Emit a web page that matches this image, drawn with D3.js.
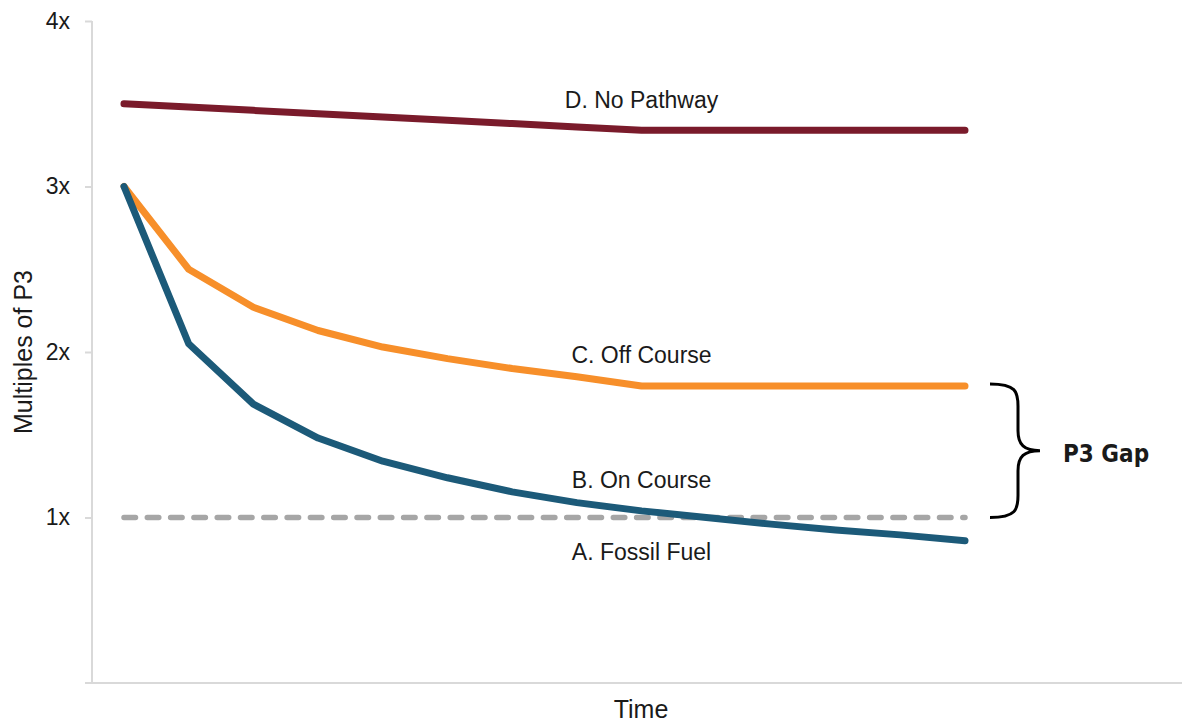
<!DOCTYPE html>
<html>
<head>
<meta charset="utf-8">
<script src="https://cdn.jsdelivr.net/npm/d3@7"></script>
<style>
  html, body { margin: 0; padding: 0; background: #fff; }
  svg { display: block; }
  text { font-family: "Liberation Sans", Arial, sans-serif; fill: #1a1a1a; }
</style>
</head>
<body>
<svg id="chart" width="1182" height="723"></svg>
<script>
// ---- data ----
const periods = d3.range(14);
const fossilFuel = [1,1,1,1,1,1,1,1,1,1,1,1,1,1];
const onCourse = [3.0, 2.05, 1.685, 1.48, 1.34, 1.24, 1.155, 1.09, 1.04, 1.0, 0.96, 0.925, 0.895, 0.86];
const offCourse = [3.0, 2.5, 2.27, 2.13, 2.03, 1.96, 1.9, 1.85, 1.795, 1.795, 1.795, 1.795, 1.795, 1.795];
const noPathway = [3.5, 3.48, 3.46, 3.44, 3.42, 3.40, 3.38, 3.36, 3.34, 3.34, 3.34, 3.34, 3.34, 3.34];
const yTicks = [1, 2, 3, 4];
const yTickLabels = ["1x", "2x", "3x", "4x"];
const seriesLabels = ["A. Fossil Fuel", "B. On Course", "C. Off Course", "D. No Pathway"];

(function () {
const svg = d3.select("#chart");
const x = d3.scaleLinear().domain([0, 13]).range([124, 965]);
const y = d3.scaleLinear().domain([0, 4]).range([683, 21]);
const axisColor = "#d9d9d9";

// y axis
const yAxis = svg.append("g").attr("transform", "translate(92,0)")
  .call(d3.axisLeft(y).tickValues(yTicks).tickSize(7).tickPadding(15)
    .tickFormat((d, i) => yTickLabels[i]));
yAxis.select(".domain").attr("stroke", axisColor).attr("stroke-width", 2)
  .attr("d", `M0,${y(4)}V${y(0)}`);
yAxis.selectAll(".tick line").attr("stroke", axisColor).attr("stroke-width", 2);
yAxis.selectAll(".tick text").attr("font-size", 23).attr("fill", "#1a1a1a")
  .attr("font-family", "Liberation Sans, Arial, sans-serif");

// x axis line
svg.append("line").attr("x1", 85).attr("x2", 1182).attr("y1", y(0)).attr("y2", y(0))
  .attr("stroke", axisColor).attr("stroke-width", 2);

// axis titles
svg.append("text").attr("x", 641).attr("y", 718).attr("text-anchor", "middle")
  .attr("font-size", 25).text("Time");
svg.append("text").attr("transform", `translate(32,${y(2)}) rotate(-90)`)
  .attr("text-anchor", "middle").attr("font-size", 25).text("Multiples of P3");

const line = d3.line().x((d, i) => x(i)).y(d => y(d));

// fossil fuel dashed
svg.append("path").datum(fossilFuel).attr("d", line).attr("fill", "none")
  .attr("stroke", "#a6a6a6").attr("stroke-width", 5.5)
  .attr("stroke-dasharray", "11.5,11.8").attr("stroke-linecap", "round");

const series = [
  { v: offCourse, c: "#f78f2a" },
  { v: onCourse, c: "#1c5a79" },
  { v: noPathway, c: "#7a1b2b" }
];
series.forEach(s => {
  svg.append("path").datum(s.v).attr("d", line).attr("fill", "none")
    .attr("stroke", s.c).attr("stroke-width", 7)
    .attr("stroke-linecap", "round").attr("stroke-linejoin", "round");
});

// series labels
const labelX = x(8);
const labelPos = [
  { t: seriesLabels[3], y: y(3.34) - 22 },
  { t: seriesLabels[2], y: y(1.795) - 23 },
  { t: seriesLabels[1], y: y(1.0) - 30 },
  { t: seriesLabels[0], y: y(1.0) + 42 }
];
labelPos.forEach(l => {
  svg.append("text").attr("x", labelX).attr("y", l.y).attr("text-anchor", "middle")
    .attr("font-size", 23).text(l.t);
});

// brace
const bx = x(13) + 25, bTop = y(1.795) - 2, bBot = y(1.0), mid = (bTop + bBot) / 2;
const bw = 28, tip = 50;
const bp = d3.path();
bp.moveTo(bx, bTop);
bp.bezierCurveTo(bx + bw - 2, bTop, bx + bw, bTop + 8, bx + bw, bTop + 22);
bp.lineTo(bx + bw, mid - 20);
bp.bezierCurveTo(bx + bw, mid - 6, bx + bw + 6, mid, bx + tip, mid);
bp.bezierCurveTo(bx + bw + 6, mid, bx + bw, mid + 6, bx + bw, mid + 20);
bp.lineTo(bx + bw, bBot - 22);
bp.bezierCurveTo(bx + bw, bBot - 8, bx + bw - 2, bBot, bx, bBot);
svg.append("path").attr("d", bp.toString()).attr("fill", "none")
  .attr("stroke", "#000").attr("stroke-width", 3);

svg.append("text").attr("x", bx + tip + 23).attr("y", mid + 11)
  .attr("font-size", 24).attr("font-weight", "bold")
  .style("font-family", "'Liberation Sans Narrow', 'DejaVu Sans Condensed', Arial, sans-serif")
  .text("P3 Gap");
})();
</script>
</body>
</html>
